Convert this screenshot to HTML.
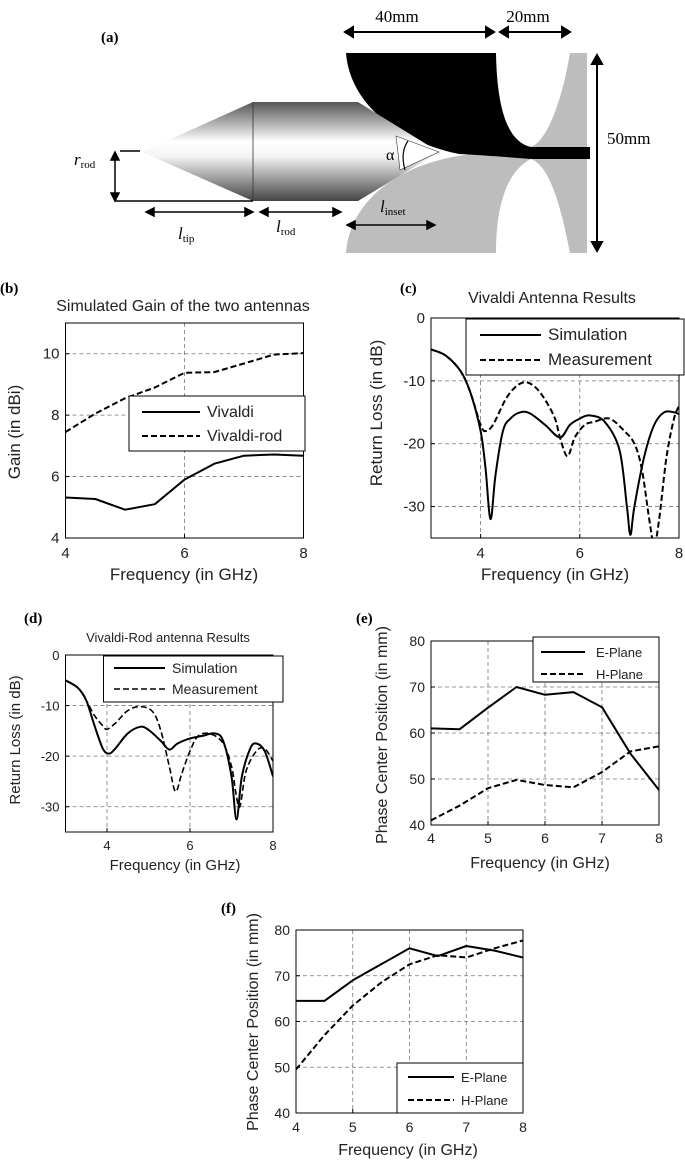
<!DOCTYPE html>
<html><head><meta charset="utf-8"><style>
html,body{margin:0;padding:0;background:#fff;}
svg{display:block;font-family:"Liberation Sans",sans-serif;}
.lbl{font-family:"Liberation Serif",serif;font-weight:bold;font-size:15px;}
</style></head><body>
<svg id="fig" width="685" height="1161" viewBox="0 0 685 1161" xmlns="http://www.w3.org/2000/svg">
<defs>
<linearGradient id="metal" x1="0" y1="0" x2="0" y2="1">
<stop offset="0" stop-color="#555"/><stop offset="0.4" stop-color="#fff"/><stop offset="0.55" stop-color="#f4f4f4"/><stop offset="1" stop-color="#444"/>
</linearGradient>
</defs>
<g>
<text class="lbl" x="101" y="42">(a)</text>
<text x="397" y="22" font-family="Liberation Serif" font-size="17" text-anchor="middle">40mm</text>
<text x="528" y="22" font-family="Liberation Serif" font-size="17" text-anchor="middle">20mm</text>
<g stroke="#000" stroke-width="2" fill="#000">
<line x1="350" y1="32" x2="489" y2="32"/><polygon points="345,32 353,27 353,37"/><polygon points="494,32 486,27 486,37"/>
<line x1="505" y1="32" x2="565" y2="32"/><polygon points="500,32 508,27 508,37"/><polygon points="570,32 562,27 562,37"/>
<line x1="597" y1="60" x2="597" y2="246"/><polygon points="597,55 592,64 602,64"/><polygon points="597,251 592,242 602,242"/>
</g>
<text x="607" y="144" font-family="Liberation Serif" font-size="17">50mm</text>
<path d="M570,53 L587,53 L587,253 L570,253 C560,200 548,165 531,159 L531,147 C548,140 562,100 570,53 Z" fill="#bdbdbd"/>
<path d="M346,253 C350,200 400,162 472,154 L531,159 C505,172 496,210 496,253 Z" fill="#bdbdbd"/>
<path d="M346,53 L496,53 C497,110 508,142 531,147 L590,147 L590,159 L531,159 C505,157 480,155 459,154 C400,142 350,105 346,53 Z" fill="#000"/>
<polygon points="142,152 253,102 253,201" fill="url(#metal)"/>
<polygon points="253,102 358,102 439,152 358,201 253,201" fill="url(#metal)"/>
<line x1="253" y1="102" x2="253" y2="201" stroke="#333" stroke-width="0.8"/>
<polygon points="396,136 439,152 400,170" fill="#fff" stroke="#333" stroke-width="0.6"/>
<path d="M408,141 Q400,152 405,170" fill="none" stroke="#000" stroke-width="1.2"/>
<text x="386" y="160" font-family="Liberation Serif" font-size="16">α</text>
<g stroke="#000" stroke-width="1.5" fill="#000">
<line x1="120" y1="151" x2="140" y2="151"/>
<line x1="115" y1="201" x2="253" y2="201"/>
<line x1="115" y1="157" x2="115" y2="196"/><polygon points="115,152 111,160 119,160"/><polygon points="115,201 111,193 119,193"/>
<line x1="151" y1="212" x2="248" y2="212"/><polygon points="146,212 154,208 154,216"/><polygon points="253,212 245,208 245,216"/>
<line x1="265" y1="212" x2="336" y2="212"/><polygon points="260,212 268,208 268,216"/><polygon points="341,212 333,208 333,216"/>
<line x1="352" y1="225" x2="430" y2="225"/><polygon points="347,225 355,221 355,229"/><polygon points="435,225 427,221 427,229"/>
</g>
<g font-family="Liberation Serif" font-size="17">
<text x="74" y="165"><tspan font-style="italic">r</tspan><tspan font-size="11" dy="3">rod</tspan></text>
<text x="178" y="239"><tspan font-style="italic">l</tspan><tspan font-size="11" dy="3">tip</tspan></text>
<text x="276" y="232"><tspan font-style="italic">l</tspan><tspan font-size="11" dy="3">rod</tspan></text>
<text x="380" y="212"><tspan font-style="italic">l</tspan><tspan font-size="11" dy="3">inset</tspan></text>
</g>
</g>
<g id="charts"></g>
</svg>
<script>
// Panel (b)
const bFreq = [4,4.5,5,5.5,6,6.5,7,7.5,8];
const bVivaldi = [5.32,5.27,4.92,5.1,5.9,6.42,6.68,6.72,6.68];
const bVivaldiRod = [7.45,8.05,8.55,8.9,9.38,9.4,9.68,9.97,10.02];
const bYTicks = [4,6,8,10];
const bXTicks = [4,6,8];
// Panel (c)
const cSimFreq = [3,3.3,3.6,3.8,4.0,4.1,4.2,4.3,4.45,4.6,4.8,5.0,5.3,5.6,5.8,6.0,6.2,6.5,6.8,6.95,7.02,7.1,7.3,7.5,7.7,7.9,8.0];
const cSim = [-5,-6,-8.5,-12,-18,-24,-32,-25,-18,-16,-15,-15.2,-17,-19,-17,-16,-15.5,-16.5,-21,-30,-34.5,-30,-22,-17,-15,-15,-15.3];
const cMeasFreq = [3,3.3,3.6,3.8,4.0,4.1,4.25,4.5,4.7,4.9,5.1,5.3,5.5,5.6,5.75,5.9,6.1,6.3,6.6,6.9,7.1,7.25,7.4,7.5,7.6,7.75,7.9,8.0];
const cMeas = [-5,-6,-8.5,-12,-17,-18,-17,-13,-11,-10.2,-11,-13,-16,-19,-22,-19,-17,-16.5,-16,-18,-20,-24,-32,-36,-32,-22,-16,-14];
const rlYTicks = [0,-10,-20,-30];
const rlXTicks = [4,6,8];
// Panel (d)
const dSimFreq = [3,3.3,3.5,3.7,3.9,4.05,4.2,4.5,4.8,5.0,5.3,5.5,5.7,6.0,6.3,6.6,6.8,7.0,7.12,7.25,7.45,7.6,7.8,8.0];
const dSim = [-5,-6.5,-9,-14,-18.5,-19.5,-18.5,-15.5,-14.2,-14.8,-17,-18.7,-17.5,-16.5,-16,-15.5,-17,-24,-32.5,-24,-18.5,-17.5,-19,-24];
const dMeasFreq = [3,3.3,3.5,3.7,3.9,4.0,4.2,4.5,4.8,5.1,5.3,5.5,5.65,5.8,6.0,6.2,6.5,6.8,7.0,7.1,7.2,7.35,7.6,7.8,8.0];
const dMeas = [-5,-6.5,-9,-12,-14,-14.7,-13.5,-11,-10.2,-11.2,-15,-22,-27,-23.5,-19,-16,-15.6,-17.5,-22,-27,-30,-23,-19,-18.5,-21];
// Panels (e),(f)
const pcFreq = [4,4.5,5,5.5,6,6.5,7,7.5,8];
const eEPlane = [61,60.8,65.5,70,68.3,68.9,65.6,55.5,47.6];
const eHPlane = [41,44.2,48,49.8,48.7,48.2,51.5,56,57.1];
const fEPlane = [64.5,64.5,69,72.5,76,74.3,76.5,75.5,74];
const fHPlane = [49.5,57,63.5,68.5,72.5,74.5,74,76,77.7];
const pcYTicks = [40,50,60,70,80];
const pcXTicks = [4,5,6,7,8];

const NS = "http://www.w3.org/2000/svg";
const root = document.getElementById('charts');
function mk(tag, attrs, parent){const e=document.createElementNS(NS,tag);for(const k in attrs)e.setAttribute(k,attrs[k]);(parent||root).appendChild(e);return e;}
function txt(s,attrs,parent){const e=mk('text',attrs,parent);e.textContent=s;return e;}
function smoothPath(P){
  let d='M'+P[0][0].toFixed(1)+','+P[0][1].toFixed(1);
  for(let i=0;i<P.length-1;i++){
    const p0=P[i-1]||P[i],p1=P[i],p2=P[i+1],p3=P[i+2]||P[i+1];
    const c1=[p1[0]+(p2[0]-p0[0])/6,p1[1]+(p2[1]-p0[1])/6];
    const c2=[p2[0]-(p3[0]-p1[0])/6,p2[1]-(p3[1]-p1[1])/6];
    d+=' C'+c1[0].toFixed(1)+','+c1[1].toFixed(1)+' '+c2[0].toFixed(1)+','+c2[1].toFixed(1)+' '+p2[0].toFixed(1)+','+p2[1].toFixed(1);
  }
  return d;
}

function panel(o){
  const g = mk('g',{});
  
  
  const sx = v => o.x0 + (v - o.xmin) / (o.xmax - o.xmin) * (o.x1 - o.x0);
  const sy = v => o.y1 - (v - o.ymin) / (o.ymax - o.ymin) * (o.y1 - o.y0);
  const clip = mk('clipPath',{id:o.name+'-clip'},g);
  mk('rect',{x:o.x0,y:o.y0,width:o.x1-o.x0,height:o.y1-o.y0},clip);
  o.yTicks.forEach(v=>{ if(v>o.ymin && v<o.ymax){
    const l=mk('line',{x1:o.x0,x2:o.x1,y1:sy(v),y2:sy(v),stroke:'#777','stroke-width':0.8,'stroke-dasharray':'4,3'},g);
    
    
  }});
  o.xTicks.forEach(v=>{ if(v>o.xmin && v<o.xmax){
    const l=mk('line',{y1:o.y0,y2:o.y1,x1:sx(v),x2:sx(v),stroke:'#777','stroke-width':0.8,'stroke-dasharray':'4,3'},g);
    
    
  }});
  o.series.forEach(s=>{
    const P = s.x.map((xv,i)=>[sx(xv),sy(s.y[i])]);
    let p;
    const common={fill:'none',stroke:'#000','stroke-width':s.w||2,'stroke-dasharray':s.dash?'6,3':'none','stroke-linejoin':'round','clip-path':'url(#'+o.name+'-clip)'};
    if(o.smooth){ common.d=smoothPath(P); p=mk('path',common,g); }
    else { common.points=P.map(q=>q[0].toFixed(1)+','+q[1].toFixed(1)).join(' '); p=mk('polyline',common,g); }
    
    
  });
  const fr = mk('rect',{x:o.x0,y:o.y0,width:o.x1-o.x0,height:o.y1-o.y0,fill:'none',stroke:'#000','stroke-width':1},g);
  
  
  o.yTicks.forEach(v=>{
    const t=txt(String(v),{x:o.x0-6,y:sy(v)+5,'text-anchor':'end','font-size':o.fs,fill:'#222'},g);
    
    
    mk('line',{x1:o.x0,x2:o.x0+4,y1:sy(v),y2:sy(v),stroke:'#000'},g);
  });
  o.xTicks.forEach(v=>{
    const t=txt(String(v),{x:sx(v),y:o.tickY,'text-anchor':'middle','font-size':o.fs,fill:'#222'},g);
    
    
    mk('line',{x1:sx(v),x2:sx(v),y1:o.y1,y2:o.y1-4,stroke:'#000'},g);
  });
  const xt=txt('Frequency (in GHz)',{x:o.xlx,y:o.xly,'text-anchor':'middle','font-size':o.fs+2,fill:'#222'},g);
  
  
  const yt=txt(o.ylabel,{x:0,y:0,'text-anchor':'middle','font-size':o.fs+2,fill:'#222',transform:'translate('+o.ylx+','+o.yly+') rotate(-90)'},g);
  
  
  if(o.title){const tt=txt(o.title,{x:o.tx,y:o.ty,'text-anchor':'middle','font-size':o.tfs,fill:'#222'},g);
    
    }
  const pl=txt(o.plabel,{x:o.plx,y:o.ply,'class':'lbl'},g);
  
  
  const L=o.legend;
  const lg=mk('g',{},g);
  
  
  mk('rect',{x:L.x,y:L.y,width:L.w,height:L.h,fill:'#fff',stroke:'#000','stroke-width':1},lg);
  o.series.forEach((s,i)=>{
    const yy=L.ey[i];
    mk('line',{x1:L.lx0,x2:L.lx1,y1:yy,y2:yy,stroke:'#000','stroke-width':s.w||2,'stroke-dasharray':s.dash?'6,3':'none'},lg);
    const e=txt(s.label,{x:L.tx,y:yy+5,'font-size':L.fs,fill:'#222'},lg);
    
    
  });
}

panel({name:'gain-chart',x0:65.5,x1:303.5,y0:323,y1:538,xmin:4,xmax:8,ymin:4,ymax:11,xTicks:bXTicks,yTicks:bYTicks,fs:15,tickY:558,xlx:184,xly:580,ylabel:'Gain (in dBi)',ylx:20,yly:432,title:'Simulated Gain of the two antennas',tx:183,ty:311,tfs:16,plabel:'(b)',plx:0,ply:293,
  series:[{name:'vivaldi-line',label:'Vivaldi',x:bFreq,y:bVivaldi},{name:'vivaldi-rod-line',label:'Vivaldi-rod',x:bFreq,y:bVivaldiRod,dash:true}],
  legend:{x:129,y:396,w:176,h:55,ey:[412,436],lx0:142,lx1:200,tx:207,fs:16}});

panel({name:'vivaldi-return-loss-chart',smooth:true,x0:431,x1:679,y0:318,y1:538,xmin:3,xmax:8,ymin:-35,ymax:0,xTicks:rlXTicks,yTicks:rlYTicks,fs:15,tickY:558,xlx:555,xly:580,ylabel:'Return Loss (in dB)',ylx:382,yly:413,title:'Vivaldi Antenna Results',tx:552,ty:303,tfs:16,plabel:'(c)',plx:400,ply:293,
  series:[{name:'simulation-line',label:'Simulation',x:cSimFreq,y:cSim},{name:'measurement-line',label:'Measurement',x:cMeasFreq,y:cMeas,dash:true}],
  legend:{x:466,y:319,w:218,h:56,ey:[335,360],lx0:480,lx1:541,tx:548,fs:17}});

panel({name:'vivaldi-rod-return-loss-chart',smooth:true,x0:65.5,x1:273,y0:655,y1:832,xmin:3,xmax:8,ymin:-35,ymax:0,xTicks:rlXTicks,yTicks:rlYTicks,fs:13,tickY:850,xlx:175,xly:870,ylabel:'Return Loss (in dB)',ylx:20,yly:740,title:'Vivaldi-Rod antenna Results',tx:168,ty:642,tfs:13,plabel:'(d)',plx:24,ply:623,
  series:[{name:'simulation-line',label:'Simulation',x:dSimFreq,y:dSim},{name:'measurement-line',label:'Measurement',x:dMeasFreq,y:dMeas,dash:true,w:1.6}],
  legend:{x:103.5,y:656,w:179.5,h:46,ey:[668,689],lx0:114,lx1:165,tx:172,fs:14}});

panel({name:'vivaldi-phase-center-chart',x0:431,x1:659,y0:641,y1:825,xmin:4,xmax:8,ymin:40,ymax:80,xTicks:pcXTicks,yTicks:pcYTicks,fs:14,tickY:843,xlx:540,xly:868,ylabel:'Phase Center Position (in mm)',ylx:387,yly:735,title:null,plabel:'(e)',plx:356,ply:623,
  series:[{name:'e-plane-line',label:'E-Plane',x:pcFreq,y:eEPlane},{name:'h-plane-line',label:'H-Plane',x:pcFreq,y:eHPlane,dash:true}],
  legend:{x:533,y:637,w:126,h:45,ey:[652,674],lx0:541,lx1:585,tx:596,fs:13}});

panel({name:'vivaldi-rod-phase-center-chart',x0:296,x1:523,y0:930,y1:1113,xmin:4,xmax:8,ymin:40,ymax:80,xTicks:pcXTicks,yTicks:pcYTicks,fs:14,tickY:1132,xlx:408,xly:1155,ylabel:'Phase Center Position (in mm)',ylx:258,yly:1022,title:null,plabel:'(f)',plx:221,ply:913,
  series:[{name:'e-plane-line',label:'E-Plane',x:pcFreq,y:fEPlane},{name:'h-plane-line',label:'H-Plane',x:pcFreq,y:fHPlane,dash:true}],
  legend:{x:397,y:1063,w:126,h:50,ey:[1077,1100],lx0:408,lx1:454,tx:461,fs:13}});
</script>
</body></html>
